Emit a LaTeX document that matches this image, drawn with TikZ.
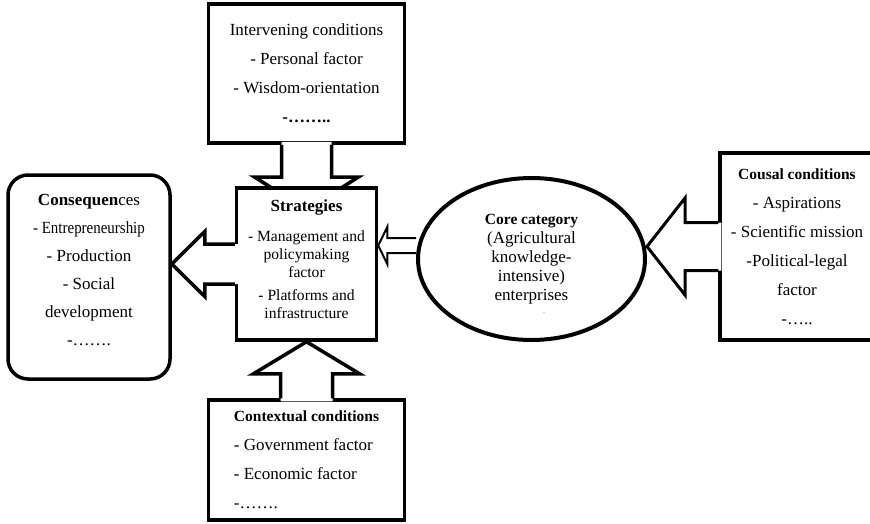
\documentclass[tikz,border=0pt]{standalone}
\usepackage{fontspec}
\setmainfont{Liberation Serif}
\usepackage{graphicx}
\usetikzlibrary{shapes.geometric, calc}
\tikzset{
  condbox/.style={rectangle, draw, line width=3.5pt, fill=white, inner sep=0pt,
                  align=center, font=\fontsize{17}{29}\selectfont},
  roundbox/.style={condbox, rounded corners=20pt, font=\fontsize{17}{28}\selectfont},
  stratbox/.style={condbox, font=\fontsize{15.6}{18}\selectfont},
  coreellipse/.style={ellipse, draw, line width=4pt, fill=white, inner sep=0pt,
                      align=center, font=\fontsize{17}{19}\selectfont},
}
\newcommand{\cattitle}[1]{{\fontsize{15.5}{29}\selectfont\bfseries #1}}
% block arrow: [tail shift]{tail}{tip}{stem half}{head half}{head length}{line width}
\newcommand{\blockarrow}[7][-3pt]{%
  \coordinate (hb) at ($(#3)!#6!(#2)$);
  \coordinate (tb) at ($(#2)!#1!(#3)$);
  \fill[white] ($(tb)!#4!90:(#3)$) -- ($(hb)!#4!-90:(#2)$) -- ($(hb)!#5!-90:(#2)$) -- (#3)
    -- ($(hb)!#5!90:(#2)$) -- ($(hb)!#4!90:(#2)$) -- ($(tb)!#4!-90:(#3)$) -- cycle;
  \draw[line width=#7] ($(#2)!#4!90:(#3)$) -- ($(hb)!#4!-90:(#2)$) -- ($(hb)!#5!-90:(#2)$)
    -- (#3) -- ($(hb)!#5!90:(#2)$) -- ($(hb)!#4!90:(#2)$) -- ($(#2)!#4!-90:(#3)$);
}

\begin{document}
\begin{tikzpicture}[x=1pt, y=-1pt]
  \useasboundingbox (0,0) rectangle (870,523);

  \node[condbox, minimum width=196pt, minimum height=139pt] (interv) at (306.5,73.5)
    {Intervening conditions\\- Personal factor\\- Wisdom-orientation\\\textbf{-……..}};
  \coordinate (topTip) at (306.5,210);
  \blockarrow{interv.south}{topTip}{25pt}{52pt}{33pt}{3.5pt}

  \node[stratbox, minimum width=140pt, minimum height=152pt] (strat) at (306.5,264)
    {{\fontsize{17}{18}\selectfont\bfseries Strategies}\\[12pt]
     - Management and\\policymaking\\factor\\[5pt]- Platforms and\\infrastructure\rule[-10pt]{0pt}{1pt}};

  \node[roundbox, minimum width=162pt, minimum height=204pt] (conseq) at (89,277)
    {\textbf{Consequen}ces\\\scalebox{0.88}[1]{- Entrepreneurship}\\- Production\\- Social\\development\\-…….\rule[-14pt]{0pt}{1pt}};
  \coordinate (leftTip) at (conseq.east |- strat.west);
  \blockarrow{strat.west}{leftTip}{20pt}{32.5pt}{33pt}{3.5pt}

  \node[condbox, align=left, minimum width=196pt, minimum height=120pt] (context) at (306.5,460)
    {\cattitle{Contextual conditions}\\- Government factor\\- Economic factor\\-…….};
  \blockarrow{context.north}{strat.south}{26pt}{53pt}{32pt}{3.5pt}

  \node[coreellipse, minimum width=227pt, minimum height=162pt] (core) at (531.5,259)
    {{\fontsize{15.5}{19}\selectfont\bfseries Core category}\\(Agricultural\\knowledge-\\intensive)\\enterprises};
  \node[font=\fontsize{6}{6}\selectfont, inner sep=0pt] (coredot) at (544,313) {.};
  \coordinate (coreTail) at ($(core.west)+(0,-13.5)$);
  \coordinate (coreTip) at (strat.east |- coreTail);
  \blockarrow[3pt]{coreTail}{coreTip}{7.5pt}{18.5pt}{9pt}{2pt}

  \node[condbox, minimum width=154pt, minimum height=187pt] (cousal) at (797,246.5)
    {\cattitle{Cousal conditions}\\- Aspirations\\- Scientific mission\\-Political-legal\\factor\\-…..};
  \coordinate (cousalTip) at (core.east |- cousal.west);
  \blockarrow{cousal.west}{cousalTip}{24pt}{48.5pt}{38pt}{3pt}
\end{tikzpicture}
\end{document}
